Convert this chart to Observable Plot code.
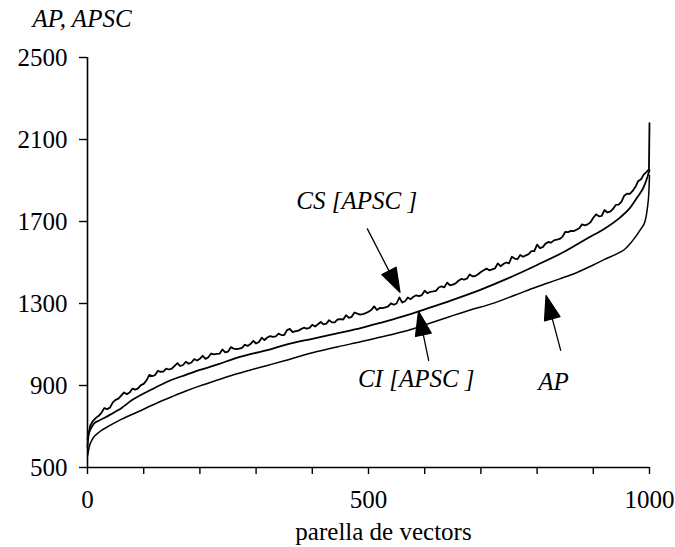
<!DOCTYPE html>
<html>
<head>
<meta charset="utf-8">
<script src="https://cdn.jsdelivr.net/npm/d3@7"></script>
<script src="https://cdn.jsdelivr.net/npm/@observablehq/plot@0.6"></script>
<style>
  html, body { margin: 0; padding: 0; background: white; }
</style>
</head>
<body>
<div id="chart"></div>
<script>
// AP: mean value per vector pair (lower curve)
const apX = [0, 3, 8, 20, 40, 60, 90, 120, 150, 175, 200, 233, 260, 293, 320, 352, 400, 450, 486, 520, 550, 580, 605, 640, 681, 723, 760, 800, 840, 870, 900, 920, 940, 955, 965, 975, 985, 992, 996, 999, 1000];
const apY = [555, 600, 635, 671, 705, 735, 772, 810, 845, 873, 898, 928, 952, 978, 998, 1022, 1060, 1092, 1113, 1135, 1155, 1177, 1200, 1232, 1268, 1302, 1340, 1382, 1420, 1450, 1488, 1515, 1540, 1562, 1590, 1625, 1665, 1700, 1760, 1850, 1925];

// CI[APSC]: lower bound of APSC (middle curve)
const ciX = [0, 2, 6, 12, 20, 32, 45, 55, 80, 115, 145, 175, 200, 233, 260, 293, 320, 352, 400, 450, 486, 520, 560, 605, 650, 700, 750, 800, 850, 889, 920, 948, 965, 978, 990, 996, 1000];
const ciY = [600, 660, 690, 715, 728, 745, 765, 780, 830, 882, 922, 952, 976, 1004, 1030, 1055, 1072, 1098, 1128, 1158, 1180, 1205, 1236, 1276, 1318, 1368, 1425, 1488, 1555, 1617, 1665, 1720, 1765, 1817, 1870, 1915, 1950];

// CS[APSC]: upper bound of APSC (upper, noisy curve)
const csX = [
  0, 5, 10, 15, 20, 25, 30, 35, 40, 45, 50, 55, 60, 65, 70, 75, 80, 85, 90, 95, 100,
  105, 110, 115, 120, 125, 130, 135, 140, 145, 150, 155, 160, 165, 170, 175, 180, 185, 190, 195, 200,
  205, 210, 215, 220, 225, 230, 235, 240, 245, 250, 255, 260, 265, 270, 275, 280, 285, 290, 295, 300,
  305, 310, 315, 320, 325, 330, 335, 340, 345, 350, 355, 360, 365, 370, 375, 380, 385, 390, 395, 400,
  405, 410, 415, 420, 425, 430, 435, 440, 445, 450, 455, 460, 465, 470, 475, 480, 485, 490, 495, 500,
  505, 510, 515, 520, 525, 530, 535, 540, 545, 550, 555, 560, 565, 570, 575, 580, 585, 590, 595, 600,
  605, 610, 615, 620, 625, 630, 635, 640, 645, 650, 655, 660, 665, 670, 675, 680, 685, 690, 695, 700,
  705, 710, 715, 720, 725, 730, 735, 740, 745, 750, 755, 760, 765, 770, 775, 780, 785, 790, 795, 800,
  805, 810, 815, 820, 825, 830, 835, 840, 845, 850, 855, 860, 865, 870, 875, 880, 885, 890, 895, 900,
  905, 910, 915, 920, 925, 930, 935, 940, 945, 950, 955, 960, 965, 970, 975, 980, 985, 990, 995, 999, 1000];
const csY = [
  640, 705, 728, 742, 752, 768, 790, 785, 792, 818, 830, 836, 851, 866, 858, 866, 885, 880, 886, 902, 908,
  925, 952, 946, 950, 971, 967, 968, 982, 978, 982, 996, 1009, 995, 1000, 1016, 1006, 1012, 1029, 1022, 1031,
  1045, 1030, 1038, 1056, 1052, 1054, 1055, 1076, 1062, 1065, 1087, 1080, 1077, 1080, 1084, 1099, 1093, 1102, 1118, 1105,
  1112, 1133, 1122, 1134, 1141, 1137, 1140, 1153, 1146, 1146, 1170, 1176, 1160, 1165, 1167, 1175, 1182, 1177, 1181, 1196,
  1188, 1199, 1210, 1198, 1202, 1219, 1208, 1208, 1222, 1224, 1222, 1243, 1230, 1235, 1256, 1251, 1246, 1248, 1253, 1260,
  1268, 1286, 1268, 1278, 1277, 1281, 1286, 1301, 1294, 1300, 1330, 1305, 1311, 1329, 1321, 1333, 1340, 1336, 1341, 1362,
  1350, 1357, 1359, 1362, 1378, 1384, 1379, 1402, 1389, 1392, 1398, 1411, 1420, 1417, 1421, 1442, 1433, 1434, 1443, 1454,
  1462, 1470, 1462, 1466, 1471, 1496, 1482, 1493, 1500, 1496, 1528, 1519, 1516, 1537, 1528, 1535, 1541, 1555, 1556, 1587,
  1570, 1575, 1592, 1600, 1597, 1608, 1611, 1615, 1625, 1649, 1648, 1654, 1653, 1660, 1667, 1686, 1681, 1686, 1696, 1718,
  1735, 1725, 1728, 1756, 1744, 1748, 1761, 1781, 1782, 1796, 1826, 1836, 1835, 1849, 1869, 1898, 1906, 1930, 1942, 1955, 2180];

// Axis ticks
const xTicks = [0, 100, 200, 300, 400, 500, 600, 700, 800, 900, 1000];
const xTickLabels = [0, 500, 1000];
const yTicks = [500, 900, 1300, 1700, 2100, 2500];

// Callouts: label text/position and arrow tail -> head
const labelText = ["CS [APSC ]", "CI [APSC ]", "AP"];
const labelX = [479, 585, 829];
const labelY = [1802, 934, 915];
const arrowX1 = [498, 607, 842];
const arrowY1 = [1664, 1022, 1071];
const arrowX2 = [556, 589, 816];
const arrowY2 = [1355, 1262, 1339];

const titleText = "AP, APSC";
const xLabelText = "parella de vectors";

// Layout
const W = 675, H = 547;
const ML = 87, MR = 26, MT = 57, MB = 80;
const xDomain = [0, 1000], yDomain = [500, 2500];
const FONT = "'Liberation Serif', 'Times New Roman', serif";

// Pixel scales used to orient the arrowheads
const xs = Plot.scale({x: {domain: xDomain, range: [ML, W - MR]}});
const ys = Plot.scale({y: {domain: yDomain, range: [H - MB, MT]}});

const arrows = arrowX1.map((x1, i) => {
  const px1 = xs.apply(x1), py1 = ys.apply(arrowY1[i]);
  const px2 = xs.apply(arrowX2[i]), py2 = ys.apply(arrowY2[i]);
  const dx = px2 - px1, dy = py2 - py1;
  return {
    x: arrowX2[i],
    y: arrowY2[i],
    len: Math.hypot(dx, dy),
    rot: Math.atan2(dx, -dy) * 180 / Math.PI
  };
});

// Straight shaft with a solid triangular head at the tip
const solidArrow = {
  draw(context, l) {
    const head = 24, half = 8;
    context.moveTo(0, 0);
    context.lineTo(0, -l + head);
    context.moveTo(0, -l);
    context.lineTo(-half, -l + head);
    context.lineTo(half, -l + head);
    context.closePath();
  }
};

const series = (xv, yv) => xv.map((x, i) => ({x, y: yv[i]}));

const chart = Plot.plot({
  width: W,
  height: H,
  marginLeft: ML,
  marginRight: MR,
  marginTop: MT,
  marginBottom: MB,
  style: {fontFamily: FONT, fontSize: "25px", color: "black", background: "white", overflow: "visible"},
  x: {domain: xDomain, axis: null},
  y: {domain: yDomain, axis: null},
  length: {type: "identity"},
  marks: [
    Plot.axisX({
      ticks: xTicks,
      tickSize: 7,
      tickPadding: 16,
      strokeWidth: 1.4,
      tickFormat: d => xTickLabels.includes(d) ? String(d) : "",
      label: null,
      fontSize: 25
    }),
    Plot.axisY({
      ticks: yTicks,
      tickSize: 8,
      tickPadding: 12,
      strokeWidth: 1.4,
      tickFormat: d => String(d),
      label: null,
      fontSize: 25
    }),
    Plot.ruleX([xDomain[0]], {y1: yDomain[0], y2: yDomain[1], stroke: "black", strokeWidth: 1.6}),
    Plot.ruleY([yDomain[0]], {x1: xDomain[0], x2: xDomain[1], stroke: "black", strokeWidth: 1.6}),
    Plot.line(series(apX, apY), {x: "x", y: "y", curve: "monotone-x", stroke: "black", strokeWidth: 1.5, strokeLinejoin: "round"}),
    Plot.line(series(ciX, ciY), {x: "x", y: "y", curve: "monotone-x", stroke: "black", strokeWidth: 1.8, strokeLinejoin: "round"}),
    Plot.line(series(csX, csY), {x: "x", y: "y", stroke: "black", strokeWidth: 1.8, strokeLinejoin: "round"}),
    Plot.vector(arrows, {
      x: "x", y: "y", length: "len", rotate: "rot", anchor: "end",
      shape: solidArrow, stroke: "black", fill: "black", strokeWidth: 1.3
    }),
    Plot.text(labelText, {
      x: (d, i) => labelX[i], y: (d, i) => labelY[i], text: d => d,
      fontStyle: "italic", fontSize: 25, fill: "black", fontFamily: FONT
    }),
    Plot.text([titleText], {
      frameAnchor: "top-left", text: d => d, dx: -55, dy: -31,
      textAnchor: "start", lineAnchor: "bottom",
      fontStyle: "italic", fontSize: 25, fill: "black", fontFamily: FONT
    }),
    Plot.text([xLabelText], {
      frameAnchor: "bottom", text: d => d, dx: 15, dy: 72,
      lineAnchor: "bottom", fontSize: 25, fill: "black", fontFamily: FONT
    })
  ]
});

document.getElementById("chart").append(chart);
</script>
</body>
</html>
